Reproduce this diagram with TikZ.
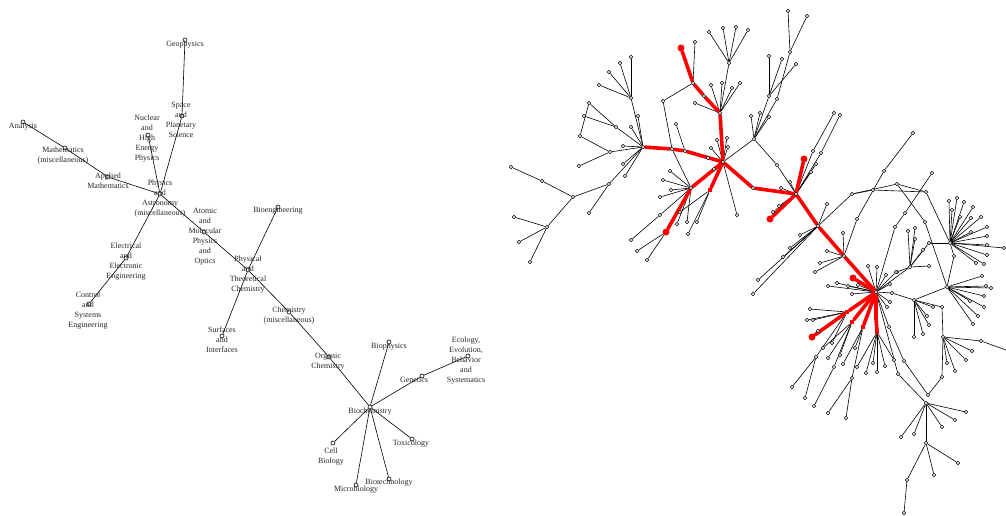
\documentclass[tikz,border=0pt]{standalone}
\usepackage{fontspec}
\setmainfont{Liberation Serif}
\pgfdeclarelayer{bg}
\pgfdeclarelayer{hot}
\pgfsetlayers{bg,hot,main}
\tikzset{
  edge/.style={black, line width=0.6pt},
  redge/.style={red, line width=3.6pt, line cap=round},
  dot/.style={circle, draw=black, fill=white, inner sep=0pt, minimum size=3.6pt, line width=0.5pt},
  rdot/.style={circle, fill=red, inner sep=0pt, minimum size=7pt},
  rsq/.style={rectangle, fill=red, inner sep=0pt, minimum size=4.5pt},
  tnode/.style={circle, draw=black, fill=white, inner sep=0pt, minimum size=4pt, line width=0.6pt},
  lbl/.style={align=center, inner sep=0pt, text=black!85, font=\fontsize{8}{10}\selectfont},
}
% leaves hanging from one hub
\newcommand\fan[2]{%
  \foreach \x/\y [count=\k] in {#2} {
    \node[dot] (#1-\k) at (\x,\y) {};
    \begin{pgfonlayer}{bg}\draw[edge] (#1) -- (#1-\k);\end{pgfonlayer}
  }}
\newcommand\links[1]{\begin{pgfonlayer}{bg}\foreach \a/\b in {#1} \draw[edge] (\a) -- (\b);\end{pgfonlayer}}
\newcommand\rlinks[1]{\begin{pgfonlayer}{hot}\foreach \a/\b in {#1} \draw[redge] (\a) -- (\b);\end{pgfonlayer}}
\begin{document}
\begin{tikzpicture}[x=1pt, y=-1pt]
\useasboundingbox (0,0) rectangle (1006,515);

% left tree: subject areas
\node[tnode] (ana) at (23,122) {};
\node[tnode] (math) at (65,148) {};
\node[tnode] (appl) at (108,177) {};
\node[tnode] (phys) at (160,194) {};
\node[tnode] (nucl) at (148,135) {};
\node[tnode] (space) at (182,116) {};
\node[tnode] (geo) at (185,40) {};
\node[tnode] (elec) at (126,258) {};
\node[tnode] (ctrl) at (89,304) {};
\node[tnode] (atom) at (204,232) {};
\node[tnode] (pchem) at (248,270) {};
\node[tnode] (bioeng) at (278,207) {};
\node[tnode] (surf) at (222,336) {};
\node[tnode] (chem) at (289,312) {};
\node[tnode] (org) at (329,357) {};
\node[tnode] (bchem) at (370,407) {};
\node[tnode] (bphys) at (389,342) {};
\node[tnode] (gen) at (422,376) {};
\node[tnode] (eco) at (468,356) {};
\node[tnode] (tox) at (412,439) {};
\node[tnode] (cell) at (333,443) {};
\node[tnode] (btech) at (389,479) {};
\node[tnode] (micro) at (356,485) {};
\links{ana/math, math/appl, appl/phys, phys/nucl, phys/space, space/geo, phys/elec, elec/ctrl,
  phys/atom, atom/pchem, pchem/bioeng, pchem/surf, pchem/chem, chem/org, org/bchem,
  bchem/bphys, bchem/gen, gen/eco, bchem/tox, bchem/cell, bchem/btech, bchem/micro}

\node[lbl] (ana-l) at (23,127) {Analysis};
\node[lbl] (math-l) at (63,156) {Mathematics\\(miscellaneous)};
\node[lbl] (appl-l) at (108,181) {Applied\\Mathematics};
\node[lbl] (phys-l) at (160,199) {Physics\\and\\Astronomy\\(miscellaneous)};
\node[lbl] (nucl-l) at (147,139) {Nuclear\\and\\High\\Energy\\Physics};
\node[lbl] (space-l) at (181,120) {Space\\and\\Planetary\\Science};
\node[lbl] (geo-l) at (185,45) {Geophysics};
\node[lbl] (elec-l) at (126,262) {Electrical\\and\\Electronic\\Engineering};
\node[lbl] (ctrl-l) at (88,311) {Control\\and\\Systems\\Engineering};
\node[lbl] (atom-l) at (205,237) {Atomic\\and\\Molecular\\Physics\\and\\Optics};
\node[lbl] (pchem-l) at (248,275) {Physical\\and\\Theoretical\\Chemistry};
\node[lbl] (bioeng-l) at (278,211) {Bioengineering};
\node[lbl] (surf-l) at (222,340) {Surfaces\\and\\Interfaces};
\node[lbl] (chem-l) at (289,316) {Chemistry\\(miscellaneous)};
\node[lbl] (org-l) at (328,362) {Organic\\Chemistry};
\node[lbl] (bchem-l) at (370,412) {Biochemistry};
\node[lbl] (bphys-l) at (389,347) {Biophysics};
\node[lbl] (gen-l) at (414,380) {Genetics};
\node[lbl] (eco-l) at (466,361) {Ecology,\\Evolution,\\Behavior\\and\\Systematics};
\node[lbl] (tox-l) at (411,444) {Toxicology};
\node[lbl] (cell-l) at (331,457) {Cell\\Biology};
\node[lbl] (btech-l) at (389,483) {Biotechnology};
\node[lbl] (micro-l) at (356,490) {Microbiology};

% right: the full network
\foreach \n/\x/\y in {h1/643/147, h2/723/162, h3/796/194, h4/876/292, h5/691/188, h6/720/113,
  h7/729/63, h8/790/52, h10/754/139, h11/818/226, h12/844/256, h13/950/243, h14/947/287,
  h15/910/267, h16/914/300, h17/943/337, h20/926/403, h21/926/443, ha/631/98, hb/609/184,
  hc/573/197, hd/547/227, q/616/127, p1/589/103, p2/584/116, p3/580/136, s/610/152, n1/542/181,
  r1/672/149, r2/685/151, m1/663/101, rn/693/83, m2/676/124, r3/753/188, r5/704/96, hn/769/96,
  hm/777/99, e1/777/165, c1/811/172, c2/816/164, c3/813/151, c4/821/153, u1/852/194, u2/873/190,
  u3/897/184, u5/926/192, u6/932/173, u7/905/213, u8/925/222, u9/895/227, k1/857/219, k2/884/171,
  g3/816/357, g4/852/378, g5/834/367, j1/889/327, j2/904/361, j3/898/374, j4/928/395, f1/892/293,
  f2/942/307, f3/942/377, i1/929/243, i2/954/256, w1/660/215, n2/907/480, n3/981/341}
  \node[dot] (\n) at (\x,\y) {};
\foreach \n/\x/\y in {re1/681/48, re2/666/232, re4/804/159, re5/770/219, re6/853/278, re7/812/337}
  \node[rdot] (\n) at (\x,\y) {};
\foreach \n/\x/\y in {re3/710/190, g1/852/322, g2/847/312, g6/863/327, rs/876/318, h18/877/332}
  \node[rsq] (\n) at (\x,\y) {};
\coordinate (n3-end) at (1006,350);

\links{ha/h1, q/h1, q/p1, q/p2, p1/p3, p3/s, s/h1, h1/hb, hb/hc, hc/n1, hc/hd, r1/m1, m1/rn,
  r2/m2, r1/h5, h6/h7, h10/h2, h10/hn, h10/hm, hm/h8, h10/e1, e1/h3, h3/c1, h3/c2, h3/c3, h3/c4,
  h11/u1, u1/u3, u1/u2, u2/u5, u3/u5, u3/u8, u8/h14, u5/h13, u6/u7, u7/u9, u9/h4, h12/k1, k1/k2,
  h13/i1, i1/h15, h13/i2, i2/h14, h4/f1, f1/h16, h4/h15, h16/h14, h16/f2, f2/h17, h4/j1, j1/j2,
  j2/j4, j4/f3, f3/h17, h4/j3, j3/h20, h20/h21, h21/n2, h17/n3, n3/n3-end, g2/g3, g1/g5, g6/g4,
  h5/w1}

\fan{ha}{631/57, 620/63, 609/72, 599/85}
\fan{h1}{638/116, 631/127, 623/146, 623/164, 625/176}
\fan{s}{579/166}
\fan{hb}{589/213}
\fan{n1}{511/167}
\fan{hd}{514/217, 519/242, 530/262}
\fan{rn}{695/42}
\fan{h6}{695/103, 711/85, 722/83, 732/88, 740/83}
\fan{h7}{709/32, 723/28, 736/27, 748/30}
\fan{h8}{788/11, 807/16}
\fan{hn}{769/56, 782/59, 796/64}
\fan{h10}{751/116, 760/113, 769/117}
\fan{h2}{717/140, 727/138, 711/148, 728/147, 708/158, 714/169, 737/215}
\fan{h5}{670/171, 663/180, 671/190, 660/197, 687/222, 677/224}
\fan{re3}{688/234, 697/222, 680/212}
\fan{w1}{631/240}
\fan{re2}{637/251, 647/260}
\fan{h3}{781/188, 790/182, 773/212, 779/206}
\fan{c3}{834/113}
\fan{c4}{840/115}
\fan{h11}{827/204, 800/235, 790/248, 783/257, 758/280, 753/294}
\fan{h12}{843/233, 827/251, 820/263, 815/272}
\fan{k2}{913/133}
\fan{h13}{949/201, 957/198, 964/202, 973/207, 952/210, 960/217, 971/218, 981/217, 987/227,
  971/232, 987/236, 987/245, 1004/248, 987/255, 984/264, 976/263}
\fan{h14}{982/276, 986/286, 991/288, 984/296, 984/307, 978/316, 973/324, 970/301}
\fan{h15}{908/231, 915/228, 915/239, 923/250, 929/266, 897/272}
\fan{h16}{914/337, 923/334, 929/325, 927/316, 933/307}
\fan{h17}{972/351, 966/360, 955/371, 947/363}
\fan{h20}{901/437, 914/434, 942/427, 955/420, 966/412}
\fan{h21}{958/463, 934/475}
\fan{n2}{904/513}
\fan{h18}{866/373, 877/372, 885/366, 894/360, 873/363, 857/367}
\fan{h4}{868/266, 877/267, 886/275, 896/272, 890/284, 848/286, 852/294, 858/285, 837/283,
  828/286, 887/307, 890/302}
\fan{g2}{810/309, 807/320, 813/320, 818/331, 832/343}
\fan{g1}{823/348, 828/358, 840/355}
\fan{g6}{843/364, 855/348}
\fan{g3}{792/387, 805/398}
\fan{g4}{828/413, 846/418}
\fan{g5}{814/406}

% the highlighted route
\rlinks{h1/r1, r1/r2, r2/h2, h2/h6, h6/r5, r5/rn, rn/re1, h2/h5, h5/re2, h2/re3, h2/r3, r3/h3,
  h3/re4, h3/re5, h3/h11, h11/h12, h12/h4, h4/re6, h4/g2, g2/re7, h4/g1, h4/g6, h4/rs, rs/h18}
\end{tikzpicture}
\end{document}
